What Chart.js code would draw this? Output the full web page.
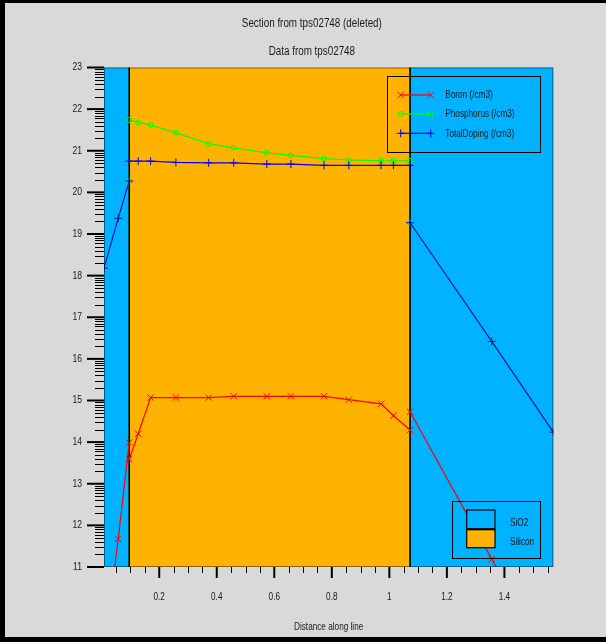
<!DOCTYPE html>
<html>
<head>
<meta charset="utf-8">
<script src="https://cdn.jsdelivr.net/npm/chart.js@4/dist/chart.umd.min.js"></script>
<style>
html,body{margin:0;padding:0;background:#d9d9d9;}
canvas{display:block;}
</style>
</head>
<body>
<canvas id="c" width="606" height="642"></canvas>
<script>
// ---- data (distance along line, log10 concentration) ----
const xSiO2Left   = [0.008, 0.0574, 0.0957];
const xSilicon    = [0.0957, 0.127, 0.170, 0.258, 0.372, 0.459, 0.574, 0.658, 0.773, 0.859, 0.971, 1.014, 1.072];
const xSiO2Right  = [1.072, 1.356, 1.570];

const boronSiO2Left   = [8.9, 11.67, 13.99];
const boronSilicon    = [13.59, 14.20, 15.07, 15.07, 15.07, 15.10, 15.10, 15.10, 15.10, 15.02, 14.92, 14.64, 14.29];
const boronSiO2Right  = [14.73, 11.19, 8.5];

const phosSiO2Left    = [18.18, 19.38, 20.27];
const phosSilicon     = [21.74, 21.68, 21.62, 21.43, 21.17, 21.07, 20.95, 20.89, 20.81, 20.78, 20.76, 20.76, 20.76];
const phosSiO2Right   = [19.27, 16.42, 14.24];

const totalSiO2Left   = [18.18, 19.38, 20.27];
const totalSilicon    = [20.75, 20.75, 20.75, 20.72, 20.71, 20.71, 20.68, 20.68, 20.65, 20.65, 20.65, 20.65, 20.65];
const totalSiO2Right  = [19.27, 16.42, 14.24];

const seriesNames = ['Boron (/cm3)', 'Phosphorus (/cm3)', 'TotalDoping (/cm3)'];
const materials   = ['SiO2', 'Silicon', 'SiO2'];
const regionEdges = [0.008, 0.0957, 1.072, 1.570];
const materialNames = ['SiO2', 'Silicon'];

const xTickValues = [0.2, 0.4, 0.6, 0.8, 1.0, 1.2, 1.4];
const xTickLabels = ['0.2', '0.4', '0.6', '0.8', '1', '1.2', '1.4'];
const yTickValues = [11, 12, 13, 14, 15, 16, 17, 18, 19, 20, 21, 22, 23];
const yTickLabels = ['11', '12', '13', '14', '15', '16', '17', '18', '19', '20', '21', '22', '23'];

const titleText = 'Section from tps02748 (deleted)';
const subtitleText = 'Data from tps02748';
const xTitle = 'Distance along line';

// ---- styles ----
const FONT = "'Liberation Sans', Arial, sans-serif";
const NARROW = 0.82; // horizontal condensation to mimic a narrow sans face
const COL_SIO2 = '#00B2FF';
const COL_SI = '#FFB300';
const COL = { boron: '#FF0000', phos: '#00FF00', total: '#0000FF' };
const materialColors = { 'SiO2': COL_SIO2, 'Silicon': COL_SI };

// condensed text rendering (text stays text, only drawn narrower)
(function () {
  const P = CanvasRenderingContext2D.prototype;
  const origFill = P.fillText;
  P.fillText = function (t, x, y, mw) {
    this.save();
    this.translate(x, y);
    this.scale(NARROW, 1);
    if (mw !== undefined && mw !== null) origFill.call(this, t, 0, 0, mw / NARROW);
    else origFill.call(this, t, 0, 0);
    this.restore();
  };
})();

function pts(xs, ys) { return xs.map((x, i) => ({ x: x, y: ys[i] })); }
function joinSegs(segs) {
  const out = [];
  segs.forEach((s, i) => {
    if (i > 0) out.push({ x: s[0].x, y: null });
    out.push(...s);
  });
  return out;
}

const boronData = joinSegs([pts(xSiO2Left, boronSiO2Left), pts(xSilicon, boronSilicon), pts(xSiO2Right, boronSiO2Right)]);
const phosData  = joinSegs([pts(xSiO2Left, phosSiO2Left), pts(xSilicon, phosSilicon), pts(xSiO2Right, phosSiO2Right)]);
const totalData = joinSegs([pts(xSiO2Left, totalSiO2Left), pts(xSilicon, totalSilicon), pts(xSiO2Right, totalSiO2Right)]);

const datasetStyles = [
  { color: COL.boron, pointStyle: 'crossRot', radius: 4.5, order: 1 },
  { color: COL.phos,  pointStyle: 'circle',   radius: 2.5, order: 2 },
  { color: COL.total, pointStyle: 'cross',    radius: 4,   order: 0 }
];
const allData = [boronData, phosData, totalData];

const datasets = seriesNames.map((name, i) => ({
  label: name,
  data: allData[i],
  borderColor: datasetStyles[i].color,
  backgroundColor: 'transparent',
  pointBorderColor: datasetStyles[i].color,
  pointBackgroundColor: 'transparent',
  pointStyle: datasetStyles[i].pointStyle,
  pointRadius: datasetStyles[i].radius,
  pointBorderWidth: 1,
  borderWidth: 1.2,
  showLine: true,
  spanGaps: false,
  tension: 0,
  order: datasetStyles[i].order
}));

// ---- plugins ----
const backgroundPlugin = {
  id: 'bg',
  beforeDraw(chart) {
    const ctx = chart.ctx, W = chart.width, H = chart.height;
    ctx.save();
    ctx.fillStyle = '#d9d9d9';
    ctx.fillRect(0, 0, W, H);
    ctx.fillStyle = '#000';
    ctx.fillRect(0, 0, W, 3);
    ctx.fillRect(0, 0, 5, H);
    ctx.fillRect(0, H - 5, W, 5);
    ctx.restore();
  }
};

const regionPlugin = {
  id: 'regions',
  beforeDatasetsDraw(chart) {
    const ctx = chart.ctx, ca = chart.chartArea, xs = chart.scales.x;
    ctx.save();
    for (let i = 0; i < materials.length; i++) {
      const x0 = xs.getPixelForValue(regionEdges[i]);
      const x1 = xs.getPixelForValue(regionEdges[i + 1]);
      ctx.fillStyle = materialColors[materials[i]];
      ctx.fillRect(x0, ca.top, x1 - x0, ca.bottom - ca.top);
    }
    ctx.strokeStyle = '#000';
    ctx.lineWidth = 1.6;
    for (let i = 1; i < regionEdges.length - 1; i++) {
      const x = xs.getPixelForValue(regionEdges[i]);
      ctx.beginPath();
      ctx.moveTo(x, ca.top);
      ctx.lineTo(x, ca.bottom);
      ctx.stroke();
    }
    ctx.restore();
  },
  afterDatasetsDraw(chart) {
    const ctx = chart.ctx, ca = chart.chartArea;
    ctx.save();
    // series legend box (transparent background)
    const bx = ca.left + 282.7, by = ca.top + 8.5, bw = 152.6, bh = 76;
    ctx.strokeStyle = '#000';
    ctx.lineWidth = 1;
    ctx.strokeRect(Math.round(bx) + 0.5, Math.round(by) + 0.5, Math.round(bw), Math.round(bh));
    const rowY = [by + 19, by + 38, by + 57.3];
    const lx0 = bx + 14, lx1 = bx + 44, tx = bx + 58.6;
    ctx.font = '10px ' + FONT;
    ctx.textBaseline = 'middle';
    ctx.textAlign = 'left';
    seriesNames.forEach((name, i) => {
      const st = datasetStyles[i];
      ctx.strokeStyle = st.color;
      ctx.lineWidth = 1.2;
      ctx.beginPath();
      ctx.moveTo(lx0, rowY[i]);
      ctx.lineTo(lx1, rowY[i]);
      ctx.stroke();
      ctx.fillStyle = 'transparent';
      ctx.lineWidth = 1;
      Chart.helpers.drawPoint(ctx, { pointStyle: st.pointStyle, radius: st.radius, borderWidth: 1 }, lx0, rowY[i]);
      Chart.helpers.drawPoint(ctx, { pointStyle: st.pointStyle, radius: st.radius, borderWidth: 1 }, lx1, rowY[i]);
      ctx.fillStyle = '#151515';
      ctx.fillText(name, tx, rowY[i] + 0.5);
    });
    // material legend box
    const mx = ca.left + 347.7, my = ca.bottom - 66.3, mw = 88.3, mh = 56.6;
    ctx.strokeStyle = '#000';
    ctx.lineWidth = 1;
    ctx.strokeRect(Math.round(mx) + 0.5, Math.round(my) + 0.5, Math.round(mw), Math.round(mh));
    const sx = mx + 15, sw = 28.3;
    const sy = [my + 9.3, my + 28.6], sh = [19.3, 18.4];
    const ty = [my + 22.6, my + 41.6];
    materialNames.forEach((m, i) => {
      ctx.fillStyle = materialColors[m];
      ctx.fillRect(sx, sy[i], sw, sh[i]);
    });
    ctx.strokeStyle = '#000';
    ctx.lineWidth = 1.2;
    materialNames.forEach((m, i) => {
      ctx.strokeRect(sx, sy[i], sw, sh[i]);
    });
    ctx.lineWidth = 2;
    ctx.beginPath();
    ctx.moveTo(sx, sy[1]);
    ctx.lineTo(sx + sw, sy[1]);
    ctx.stroke();
    ctx.fillStyle = '#151515';
    ctx.font = '10px ' + FONT;
    ctx.textBaseline = 'middle';
    ctx.textAlign = 'left';
    materialNames.forEach((m, i) => {
      ctx.fillText(m, mx + 58.3, ty[i]);
    });
    ctx.restore();
  }
};

const ticksPlugin = {
  id: 'ticksFrame',
  afterDraw(chart) {
    const ctx = chart.ctx, ca = chart.chartArea, xs = chart.scales.x, ys = chart.scales.y;
    ctx.save();
    // frame
    ctx.strokeStyle = 'rgba(0,0,0,0.45)';
    ctx.lineWidth = 1;
    ctx.strokeRect(ca.left + 0.5, ca.top + 0.5, ca.right - ca.left - 1, ca.bottom - ca.top - 1);
    ctx.strokeStyle = '#000';
    // y major ticks
    yTickValues.forEach(v => {
      const y = ys.getPixelForValue(v);
      ctx.lineWidth = 2;
      ctx.beginPath();
      ctx.moveTo(ca.left - 17, y);
      ctx.lineTo(ca.left, y);
      ctx.stroke();
    });
    // y minor (log) ticks
    ctx.lineWidth = 1;
    for (let d = ys.min; d < ys.max; d++) {
      for (let k = 2; k <= 9; k++) {
        const y = Math.round(ys.getPixelForValue(d + Math.log10(k))) + 0.5;
        ctx.beginPath();
        ctx.moveTo(ca.left - 9, y);
        ctx.lineTo(ca.left, y);
        ctx.stroke();
      }
    }
    // x ticks
    const step = 0.05;
    for (let i = 1; i * step <= xs.max + 1e-9; i++) {
      const v = i * step;
      if (v < xs.min) continue;
      const x = xs.getPixelForValue(v);
      const major = xTickValues.some(t => Math.abs(t - v) < 1e-6);
      ctx.lineWidth = major ? 2 : 1;
      const xp = major ? x : Math.round(x) + 0.5;
      ctx.beginPath();
      ctx.moveTo(xp, ca.bottom);
      ctx.lineTo(xp, ca.bottom + (major ? 11 : 6));
      ctx.stroke();
    }
    ctx.restore();
  }
};

new Chart(document.getElementById('c'), {
  type: 'scatter',
  data: { datasets: datasets },
  options: {
    responsive: false,
    animation: false,
    events: [],
    layout: { padding: { left: 70.4, right: 52.7, top: 0, bottom: 0 } },
    plugins: {
      legend: { display: false },
      tooltip: { enabled: false },
      title: {
        display: true, text: titleText, color: '#1a1a1a',
        font: { family: FONT, size: 12, weight: 'normal' },
        padding: { top: 16.8, bottom: 5 }
      },
      subtitle: {
        display: true, text: subtitleText, color: '#1a1a1a',
        font: { family: FONT, size: 12, weight: 'normal' },
        padding: { top: 7.9, bottom: 9 }
      }
    },
    scales: {
      x: {
        type: 'linear',
        min: regionEdges[0],
        max: regionEdges[regionEdges.length - 1],
        grid: { display: false, drawTicks: false },
        border: { display: false },
        afterBuildTicks(scale) { scale.ticks = xTickValues.map(v => ({ value: v })); },
        afterFit(scale) { scale.height = 75; },
        ticks: {
          padding: 24.7,
          color: '#1a1a1a',
          font: { family: FONT, size: 10 },
          maxRotation: 0,
          autoSkip: false,
          callback(value) { const i = xTickValues.findIndex(t => Math.abs(t - value) < 1e-9); return i >= 0 ? xTickLabels[i] : ''; }
        },
        title: {
          display: true, text: xTitle, color: '#1a1a1a',
          font: { family: FONT, size: 10 },
          padding: { top: 0, bottom: 8.3 }
        }
      },
      y: {
        type: 'linear',
        min: yTickValues[0],
        max: yTickValues[yTickValues.length - 1],
        grid: { display: false, drawTicks: false },
        border: { display: false },
        afterBuildTicks(scale) { scale.ticks = yTickValues.map(v => ({ value: v })); },
        afterFit(scale) { scale.width = 33.6; },
        ticks: {
          padding: 22,
          color: '#1a1a1a',
          font: { family: FONT, size: 10.5 },
          autoSkip: false,
          callback(value) { const i = yTickValues.indexOf(value); return i >= 0 ? yTickLabels[i] : ''; }
        }
      }
    }
  },
  plugins: [backgroundPlugin, regionPlugin, ticksPlugin]
});
</script>
</body>
</html>
